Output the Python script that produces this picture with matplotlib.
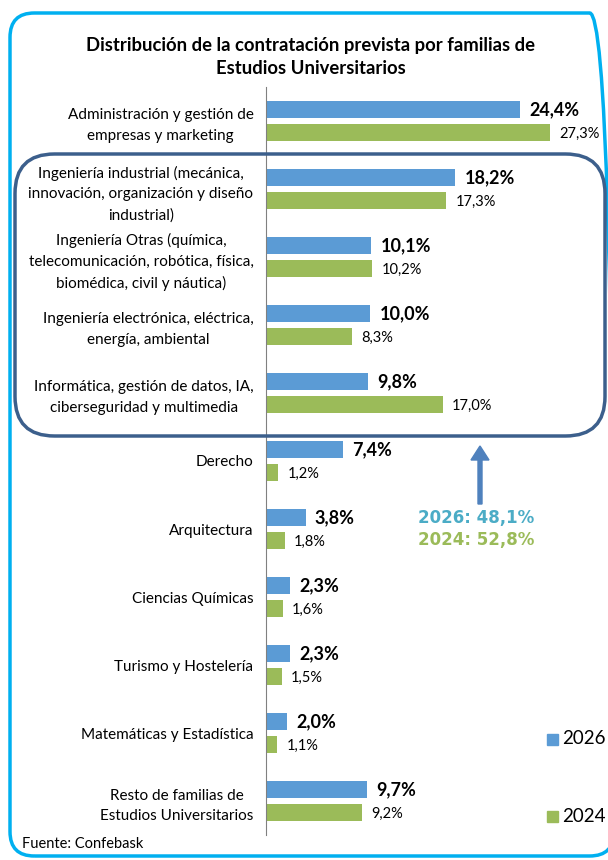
import matplotlib.pyplot as plt
from matplotlib.patches import FancyBboxPatch, FancyArrow
import numpy as np

plt.rcParams['font.family'] = ['Lato', 'DejaVu Sans']

categories = [
    'Administración y gestión de\nempresas y marketing',
    'Ingeniería industrial (mecánica,\ninnovación, organización y diseño\nindustrial)',
    'Ingeniería Otras (química,\ntelecomunicación, robótica, física,\nbiomédica, civil y náutica)',
    'Ingeniería electrónica, eléctrica,\nenergía, ambiental',
    'Informática, gestión de datos, IA,\nciberseguridad y multimedia',
    'Derecho',
    'Arquitectura',
    'Ciencias Químicas',
    'Turismo y Hostelería',
    'Matemáticas y Estadística',
    'Resto de familias de\nEstudios Universitarios',
]
values_2026 = [24.4, 18.2, 10.1, 10.0, 9.8, 7.4, 3.8, 2.3, 2.3, 2.0, 9.7]
values_2024 = [27.3, 17.3, 10.2, 8.3, 17.0, 1.2, 1.8, 1.6, 1.5, 1.1, 9.2]
series_names = ['2026', '2024']
total_2026 = '2026: 48,1%'
total_2024 = '2024: 52,8%'

BLUE = '#5B9BD5'
GREEN = '#9BBB59'

W, H = 608, 860
fig = plt.figure(figsize=(W / 100, H / 100), dpi=100)

# axes placed in pixel terms
ax = fig.add_axes([266 / W, 1 - 835 / H, (W - 266) / W, (835 - 87) / H])
y = np.arange(len(categories))
off, bh = 0.165, 0.25
ax.barh(y - off, values_2026, height=bh, color=BLUE, label=series_names[0])
ax.barh(y + off, values_2024, height=bh, color=GREEN, label=series_names[1])
ax.set_xlim(0, (W - 266) / 10.4)
ax.set_ylim(len(categories) - 0.5, -0.5)

for i, (a, b) in enumerate(zip(values_2026, values_2024)):
    ax.text(a + 0.9, i - off, f'{a:.1f}%'.replace('.', ','), va='center',
            ha='left', fontsize=13, fontweight='bold')
    ax.text(b + 0.9, i + off + 0.02, f'{b:.1f}%'.replace('.', ','), va='center',
            ha='left', fontsize=10.5)

ax.set_yticks(y)
ax.set_yticklabels(categories, fontsize=11, multialignment='center', linespacing=1.6)
ax.tick_params(axis='y', length=0, pad=9)
ax.set_xticks([])
for s in ['top', 'right', 'bottom']:
    ax.spines[s].set_visible(False)
ax.spines['left'].set_color('#808080')
ax.spines['left'].set_linewidth(0.8)

# title
fig.text(311 / W, 1 - 45 / H, 'Distribución de la contratación prevista por familias de',
         ha='center', va='center', fontsize=13.3, fontweight='bold')
fig.text(311 / W, 1 - 68 / H, 'Estudios Universitarios',
         ha='center', va='center', fontsize=13.3, fontweight='bold')

# outer border
outer = FancyBboxPatch((10 / W, 1 - 856 / H), 604 / W, 843 / H,
                       boxstyle='round,pad=0,rounding_size=0.04',
                       transform=fig.transFigure, fill=False,
                       edgecolor='#00B0F0', linewidth=2.5, mutation_aspect=W / H)
fig.add_artist(outer)

# engineering group box
inner = FancyBboxPatch((15 / W, 1 - 436 / H), 590 / W, 282 / H,
                       boxstyle='round,pad=0,rounding_size=0.065',
                       transform=fig.transFigure, fill=False,
                       edgecolor='#3C5F8C', linewidth=2.5, mutation_aspect=W / H)
fig.add_artist(inner)

# arrow and totals
arr = FancyArrow(480 / W, 1 - 504 / H, 0, 58 / H, width=4 / W,
                 head_width=18 / W, head_length=14 / H, length_includes_head=True,
                 transform=fig.transFigure, color='#4F81BD')
fig.add_artist(arr)
fig.text(476 / W, 1 - 518 / H, total_2026, ha='center', va='center',
         fontsize=12, fontweight='bold', color='#4BACC6', family='DejaVu Sans')
fig.text(476 / W, 1 - 540 / H, total_2024, ha='center', va='center',
         fontsize=12, fontweight='bold', color=GREEN, family='DejaVu Sans')

# legend
fig.patches.append(plt.Rectangle((547 / W, 1 - 745 / H), 11 / W, 11 / H,
                                 transform=fig.transFigure, color=BLUE))
fig.text(562 / W, 1 - 739 / H, series_names[0], ha='left', va='center', fontsize=13.5)
fig.patches.append(plt.Rectangle((547 / W, 1 - 822 / H), 11 / W, 11 / H,
                                 transform=fig.transFigure, color=GREEN))
fig.text(562 / W, 1 - 816 / H, series_names[1], ha='left', va='center', fontsize=13.5)

fig.text(22 / W, 1 - 844 / H, 'Fuente: Confebask', ha='left', va='center', fontsize=10.5)

plt.savefig('out.png', dpi=100)
